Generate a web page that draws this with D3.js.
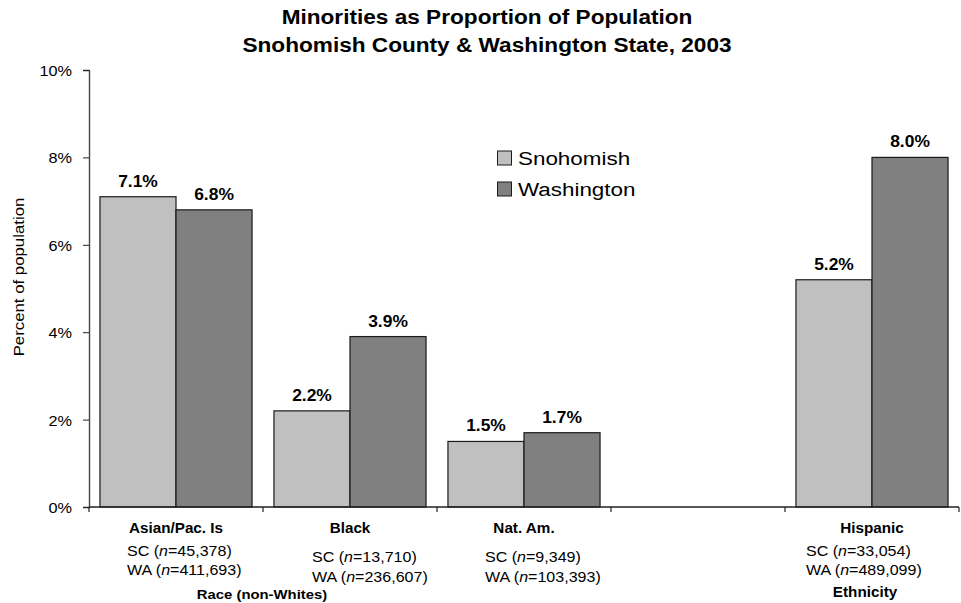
<!DOCTYPE html>
<html>
<head>
<meta charset="utf-8">
<script src="https://cdn.jsdelivr.net/npm/d3@7"></script>
<style>
  html, body { margin: 0; padding: 0; background: #fff; }
  svg { display: block; font-family: "Liberation Sans", Arial, Helvetica, sans-serif; }
</style>
</head>
<body>
<svg id="chart" width="961" height="603"></svg>
<script>
// Share of population by minority group, 2003
const categories = ["Asian/Pac. Is", "Black", "Nat. Am.", "", "Hispanic"];
const seriesNames = ["Snohomish", "Washington"];
const snohomish = [7.1, 2.2, 1.5, null, 5.2];
const washington = [6.8, 3.9, 1.7, null, 8.0];
const countSC = ["45,378", "13,710", "9,349", null, "33,054"];
const countWA = ["411,693", "236,607", "103,393", null, "489,099"];
const yTicks = [0, 2, 4, 6, 8, 10];
const titleLines = ["Minorities as Proportion of Population",
                    "Snohomish County & Washington State, 2003"];

const colors = ["#c0c0c0", "#808080"];

const svg = d3.select("#chart");
const plotLeft = 89, plotRight = 959, plotTop = 70, plotBottom = 507;

const x = d3.scaleBand().domain(d3.range(categories.length))
  .range([plotLeft, plotRight]).paddingInner(0.126).paddingOuter(0.063);
const xs = d3.scaleBand().domain(d3.range(seriesNames.length))
  .range([0, x.bandwidth()]);
const y = d3.scaleLinear().domain([0, 10]).range([plotBottom, plotTop]);

// text helper with a slight horizontal stretch
function label(g, txt, px, py, opts) {
  const o = Object.assign({ size: 15, weight: "normal", anchor: "middle", sx: 1.08, rot: 0 }, opts);
  const t = g.append("text")
    .attr("transform", `translate(${px},${py})` + (o.rot ? ` rotate(${o.rot})` : "") + ` scale(${o.sx},1)`)
    .attr("text-anchor", o.anchor)
    .attr("font-size", o.size)
    .attr("font-weight", o.weight)
    .attr("fill", "#000");
  if (typeof txt === "string") t.text(txt); else txt(t);
  return t;
}

// Title
titleLines.forEach((s, i) =>
  label(svg, s, 487, 24 + i * 27.5, { size: 19.5, weight: "bold", sx: 1.16 }));

// Y axis
const yAxis = d3.axisLeft(y).tickValues(yTicks).tickFormat(d => d + "%").tickSize(6).tickPadding(10);
const gy = svg.append("g").attr("transform", `translate(${plotLeft},0)`).call(yAxis);
gy.select(".domain").attr("stroke", "#444").attr("stroke-width", 1.4);
gy.selectAll(".tick line").attr("stroke", "#222");
gy.selectAll(".tick text").remove();
yTicks.forEach(v => label(svg, v + "%", 72, y(v) + 6, { size: 15.5, anchor: "end", sx: 1.05 }));

label(svg, "Percent of population", 24, 277, { size: 14, rot: -90, sx: 1.2 });

// Bars
const data = categories.map((c, i) => ({ i, vals: [snohomish[i], washington[i]] }));
const groups = svg.append("g").selectAll("g").data(data).join("g")
  .attr("transform", d => `translate(${x(d.i)},0)`);

groups.selectAll("rect")
  .data(d => d.vals.map((v, s) => ({ v, s })).filter(e => e.v != null))
  .join("rect")
  .attr("x", e => xs(e.s))
  .attr("y", e => y(e.v))
  .attr("width", xs.bandwidth())
  .attr("height", e => y(0) - y(e.v))
  .attr("fill", e => colors[e.s])
  .attr("stroke", "#1a1a1a")
  .attr("stroke-width", 1.2);

// Value labels
data.forEach(d => d.vals.forEach((v, s) => {
  if (v == null) return;
  label(svg, v.toFixed(1) + "%", x(d.i) + xs(s) + xs.bandwidth() / 2, y(v) - 10,
    { size: 16, weight: "bold", sx: 1.09 });
}));

// X axis with ticks at category boundaries
svg.append("line").attr("x1", plotLeft).attr("x2", plotRight).attr("y1", plotBottom).attr("y2", plotBottom)
  .attr("stroke", "#222").attr("stroke-width", 1.4);
const step = x.step();
d3.range(categories.length + 1).forEach(k => {
  const bx = plotLeft + k * step;
  svg.append("line").attr("x1", bx).attr("x2", bx).attr("y1", plotBottom).attr("y2", plotBottom + 5)
    .attr("stroke", "#222").attr("stroke-width", 1.2);
});

// Category labels and counts
const countOffset = [-49, -38, -39, 0, -66];
const countRowY = [[556, 575], [562, 582], [562, 582], null, [556, 575]];
categories.forEach((c, i) => {
  if (!c) return;
  const cx = x(i) + x.bandwidth() / 2;
  label(svg, c, cx, 533, { size: 14, weight: "bold", sx: 1.09 });
  const lx = cx + countOffset[i];
  [["SC", countSC[i]], ["WA", countWA[i]]].forEach(([who, n], r) => {
    label(svg, t => {
      t.append("tspan").text(who + " (");
      t.append("tspan").attr("font-style", "italic").text("n");
      t.append("tspan").text("=" + n + ")");
    }, lx, countRowY[i][r], { size: 15, anchor: "start", sx: 1.07 });
  });
});

label(svg, "Race (non-Whites)", 262, 599, { size: 13.5, weight: "bold", sx: 1.1 });
label(svg, "Ethnicity", 865, 597, { size: 14, weight: "bold", sx: 1.09 });

// Legend
const legend = svg.append("g");
seriesNames.forEach((s, k) => {
  const ly = 151 + k * 31;
  legend.append("rect").attr("x", 497.5).attr("y", ly).attr("width", 14).attr("height", 14)
    .attr("fill", colors[k]).attr("stroke", "#1a1a1a").attr("stroke-width", 1);
  label(legend, s, 518, ly + 14, { size: 19, anchor: "start", sx: 1.18 });
});
</script>
</body>
</html>
